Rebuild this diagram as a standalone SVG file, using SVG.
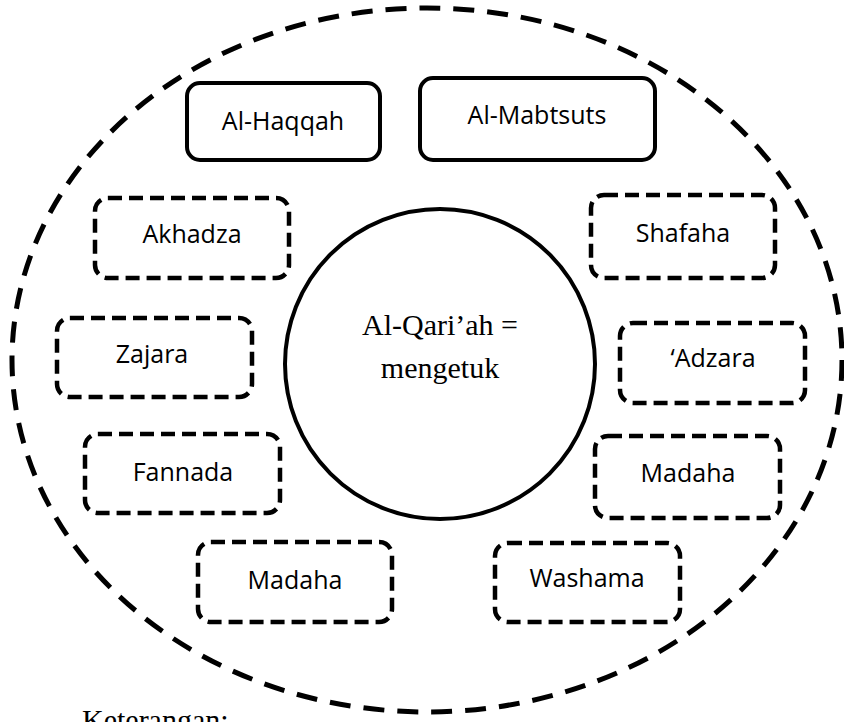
<svg xmlns="http://www.w3.org/2000/svg" width="844" height="722" viewBox="0 0 844 722">
<style>
.outer{fill:none;stroke:#000;stroke-width:5;stroke-dasharray:21 13}
.solid{fill:#fff;stroke:#000;stroke-width:4}
.dash{fill:#fff;stroke:#000;stroke-width:4.5;stroke-dasharray:14 7}
.lbl{font-family:"Open Sans","Noto Sans",sans-serif;font-size:25px;fill:#000;text-anchor:middle}
.ser{font-family:"Liberation Serif","Times New Roman",serif;font-size:30px;fill:#000}
</style>
<rect width="844" height="722" fill="#fff"/>
<g id="connectors"></g>
<g id="outer-ellipse"><ellipse class="outer" cx="427" cy="360" rx="415" ry="352"/></g>
<g id="center"><circle class="solid" cx="440" cy="364" r="155"/>
<text class="ser" x="440" y="335" text-anchor="middle">Al-Qari’ah =</text>
<text class="ser" x="440" y="378" text-anchor="middle">mengetuk</text></g>
<g id="al-haqqah"><rect class="solid" x="187" y="83" width="193" height="77" rx="13"/><text class="lbl" x="283" y="130">Al-Haqqah</text></g>
<g id="al-mabtsuts"><rect class="solid" x="420" y="78" width="235" height="82" rx="13"/><text class="lbl" x="537" y="124">Al-Mabtsuts</text></g>
<g id="akhadza"><rect class="dash" x="95" y="198" width="194" height="80" rx="13"/><text class="lbl" x="192" y="243">Akhadza</text></g>
<g id="shafaha"><rect class="dash" x="591" y="195" width="184" height="83" rx="13"/><text class="lbl" x="683" y="242">Shafaha</text></g>
<g id="zajara"><rect class="dash" x="57" y="318" width="195" height="79" rx="13"/><text class="lbl" x="152" y="363">Zajara</text></g>
<g id="adzara"><rect class="dash" x="620" y="323" width="185" height="80" rx="13"/><text class="lbl" x="713" y="367">‘Adzara</text></g>
<g id="fannada"><rect class="dash" x="85" y="434" width="195" height="79" rx="13"/><text class="lbl" x="183" y="481">Fannada</text></g>
<g id="madaha-right"><rect class="dash" x="595" y="436" width="185" height="82" rx="13"/><text class="lbl" x="688" y="482">Madaha</text></g>
<g id="madaha-left"><rect class="dash" x="198" y="542" width="194" height="80" rx="13"/><text class="lbl" x="295" y="589">Madaha</text></g>
<g id="washama"><rect class="dash" x="495" y="543" width="185" height="79" rx="13"/><text class="lbl" x="587" y="587">Washama</text></g>
<text class="ser" x="82" y="730">Keterangan:</text>
</svg>
